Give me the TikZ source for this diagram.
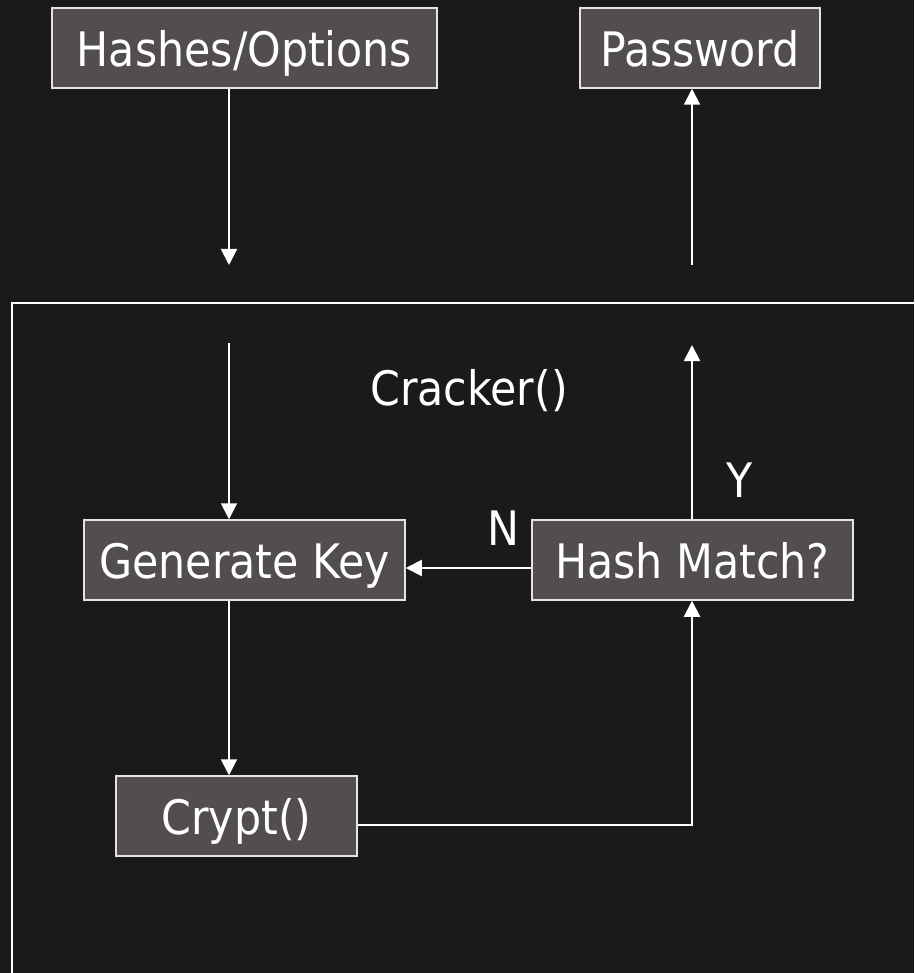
\documentclass[tikz,border=0pt]{standalone}
\usepackage{fontspec}
\setmainfont{DejaVu Sans Condensed}
\usetikzlibrary{arrows.meta}
\definecolor{bgdark}{HTML}{1B1A19}
\definecolor{boxgray}{HTML}{524E4D}
\definecolor{edgegray}{HTML}{E4E4E4}

\begin{document}
\begin{tikzpicture}[x=1pt,y=-1pt,line join=miter,
  stage/.style={draw=edgegray,line width=1.5pt,fill=boxgray,text=white,
    inner sep=0pt,minimum height=80pt,text height=37pt,text depth=0pt,
    font=\fontsize{47.5}{52}\selectfont},
  flow/.style={draw=white,line width=2pt,-{Triangle[width=16pt,length=16pt]}},
  lbl/.style={text=white,inner sep=0pt,text height=37pt,text depth=0pt,
    font=\fontsize{47.5}{52}\selectfont}]
  % Background
  \fill[bgdark] (0,0) rectangle (914,973);
  \useasboundingbox (0,0) rectangle (914,973);

  % Outside boxes
  \node[stage,minimum width=385pt] (hashes) at (244.5,48) {Hashes/Options};
  \node[stage,minimum width=240pt] (pass)   at (700,48)   {Password};

  % Cracker() frame, open to the right and bottom
  \draw[white,line width=2.5pt] (12,973) -- (12,303) -- (914,303);
  \node[lbl] (crk) at (469,386.5) {Cracker()};

  % Inside boxes
  \node[stage,minimum width=321pt] (genkey) at (244.5,560) {Generate Key};
  \node[stage,minimum width=321pt] (match)  at (692.5,560) {Hash Match?};
  \node[stage,minimum width=241pt] (crypt)  at (236.5,816) {Crypt()};

  % Free ends of the connectors
  \coordinate (inA)  at (229,265);
  \coordinate (outA) at (692,265);
  \coordinate (inB)  at (229,343);
  \coordinate (outB) at (692,345);

  % Connectors
  \draw[flow] (hashes.south -| inA) -- (inA);
  \draw[flow] (outA) -- (outA |- pass.south);
  \draw[flow] (inB) -- (inB |- genkey.north);
  \draw[flow] (match.north -| outB) -- (outB);
  \draw[flow] ([yshift=-8pt]match.west) -- ([yshift=-8pt]genkey.east);
  \draw[flow] (genkey.south -| inB) -- (crypt.north -| inB);
  \draw[flow] ([yshift=-9pt]crypt.east) -| (match.south -| outB);

  % Branch labels
  \node[lbl] (nlbl) at (503,526.5) {N};
  \node[lbl] (ylbl) at (740,478.5) {Y};
\end{tikzpicture}
\end{document}
